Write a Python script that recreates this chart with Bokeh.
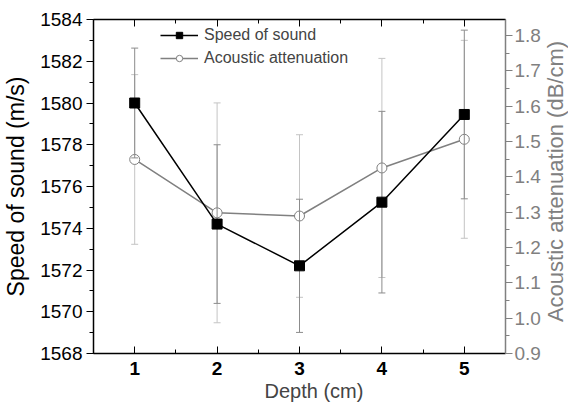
import math
from bokeh.plotting import figure
from bokeh.models import (LinearAxis, Range1d, SingleIntervalTicker, Legend,
                          LegendItem, PrintfTickFormatter, ColumnDataSource,
                          Title, Label)
from bokeh.embed import file_html
from bokeh.resources import INLINE

# ---- data ----
depth = [1, 2, 3, 4, 5]
speed = [1580.0, 1574.2, 1572.2, 1575.25, 1579.45]
speed_err = [2.63, 3.8, 3.19, 4.35, 4.04]
atten = [1.449, 1.298, 1.289, 1.425, 1.506]
atten_err = [0.24, 0.311, 0.23, 0.31, 0.28]

src = ColumnDataSource(dict(
    x=depth,
    speed=speed,
    s_lo=[v - e for v, e in zip(speed, speed_err)],
    s_hi=[v + e for v, e in zip(speed, speed_err)],
    att=atten,
    a_lo=[v - e for v, e in zip(atten, atten_err)],
    a_hi=[v + e for v, e in zip(atten, atten_err)],
))

FONT = "Liberation Sans"
GRAY = "#808080"

p = figure(width=568, height=411, x_range=Range1d(0.5, 5.5),
           y_range=Range1d(1568, 1584), output_backend="svg",
           toolbar_location=None, x_axis_location=None, y_axis_location=None,
           min_border_left=93, min_border_right=63, min_border_top=19,
           min_border_bottom=58)
p.extra_y_ranges = {"att": Range1d(0.9, 1.845)}
p.xgrid.visible = False
p.ygrid.visible = False
p.outline_line_color = None
p.background_fill_color = "white"


def style(ax, color="black"):
    ax.axis_line_color = color
    ax.axis_line_width = 1.5
    ax.major_tick_line_color = color
    ax.minor_tick_line_color = color
    ax.major_tick_line_width = 1
    ax.minor_tick_line_width = 1
    ax.major_label_text_color = color
    ax.axis_label_text_color = color
    ax.major_label_text_font = FONT
    ax.axis_label_text_font = FONT
    ax.axis_label_text_font_style = "normal"


# bottom axis
xb = LinearAxis(ticker=SingleIntervalTicker(interval=1, num_minor_ticks=2))
style(xb)
xb.major_tick_in, xb.major_tick_out = 7, 0
xb.minor_tick_in, xb.minor_tick_out = 4, 0
xb.major_label_text_font_size = "19px"
xb.major_label_text_font_style = "bold"
xb.major_label_standoff = 8
p.add_layout(xb, "below")
p.add_layout(Title(text="Depth (cm)", align="left", offset=171,
                   text_font=FONT, text_font_size="20px",
                   text_font_style="normal", standoff=0), "below")

# top axis (ticks only)
xt = LinearAxis(ticker=SingleIntervalTicker(interval=1, num_minor_ticks=2),
                major_label_overrides={d: "" for d in depth})
style(xt)
xt.major_tick_in, xt.major_tick_out = 7, 0
xt.minor_tick_in, xt.minor_tick_out = 4, 0
xt.major_label_standoff = 0
p.add_layout(xt, "above")

# left axis
yl = LinearAxis(ticker=SingleIntervalTicker(interval=2, num_minor_ticks=2),
                axis_label="Speed of sound (m/s)")
style(yl)
yl.major_tick_in, yl.major_tick_out = 0, 7
yl.minor_tick_in, yl.minor_tick_out = 0, 4
yl.major_label_text_font_size = "19px"
yl.major_label_standoff = 4
yl.axis_label_text_font_size = "23px"
yl.axis_label_standoff = 8
p.add_layout(yl, "left")

# right axis
yr = LinearAxis(y_range_name="att",
                ticker=SingleIntervalTicker(interval=0.1, num_minor_ticks=2),
                formatter=PrintfTickFormatter(format="%.1f"))
style(yr, GRAY)
yr.major_tick_in, yr.major_tick_out = 0, 7
yr.minor_tick_in, yr.minor_tick_out = 0, 4
yr.major_label_text_font_size = "19px"
yr.major_label_standoff = 2
p.add_layout(yr, "right")

p.add_layout(Label(x=555, y=181, x_units="canvas", y_units="canvas",
                   text="Acoustic attenuation (dB/cm)", angle=math.pi / 2,
                   text_align="center", text_baseline="middle",
                   text_font=FONT, text_font_size="22px", text_color=GRAY),
             "right")

# attenuation series
p.segment(x0="x", y0="a_lo", x1="x", y1="a_hi", source=src, y_range_name="att",
          line_color="#c4c4c4", line_width=1)
p.scatter(x="x", y="a_lo", source=src, y_range_name="att", marker="dash",
          size=7, line_color="#c4c4c4", line_width=1)
p.scatter(x="x", y="a_hi", source=src, y_range_name="att", marker="dash",
          size=7, line_color="#c4c4c4", line_width=1)
att_line = p.line(x="x", y="att", source=src, y_range_name="att",
                  line_color=GRAY, line_width=1.5)
att_pts = p.scatter(x="x", y="att", source=src, y_range_name="att",
                    marker="circle", size=10, fill_color="white",
                    line_color=GRAY, line_width=1)

# speed series
p.segment(x0="x", y0="s_lo", x1="x", y1="s_hi", source=src,
          line_color="#8c8c8c", line_width=1)
p.scatter(x="x", y="s_lo", source=src, marker="dash", size=7,
          line_color="#8c8c8c", line_width=1)
p.scatter(x="x", y="s_hi", source=src, marker="dash", size=7,
          line_color="#8c8c8c", line_width=1)
sp_line = p.line(x="x", y="speed", source=src, line_color="black",
                 line_width=1.5)
sp_pts = p.scatter(x="x", y="speed", source=src, marker="square", size=10,
                   fill_color="black", line_color="black")

legend = Legend(items=[
    LegendItem(label="Speed of sound", renderers=[sp_line, sp_pts]),
    LegendItem(label="Acoustic attenuation", renderers=[att_line, att_pts]),
], location=(67, 286))
legend.border_line_color = None
legend.background_fill_alpha = 0
legend.padding = 0
legend.margin = 0
legend.spacing = 5
legend.glyph_width = 38
legend.glyph_height = 16
legend.label_height = 16
legend.label_standoff = 6
legend.label_text_font = FONT
legend.label_text_font_size = "16px"
p.add_layout(legend, "center")

open("out.html", "w").write(file_html(p, INLINE))
